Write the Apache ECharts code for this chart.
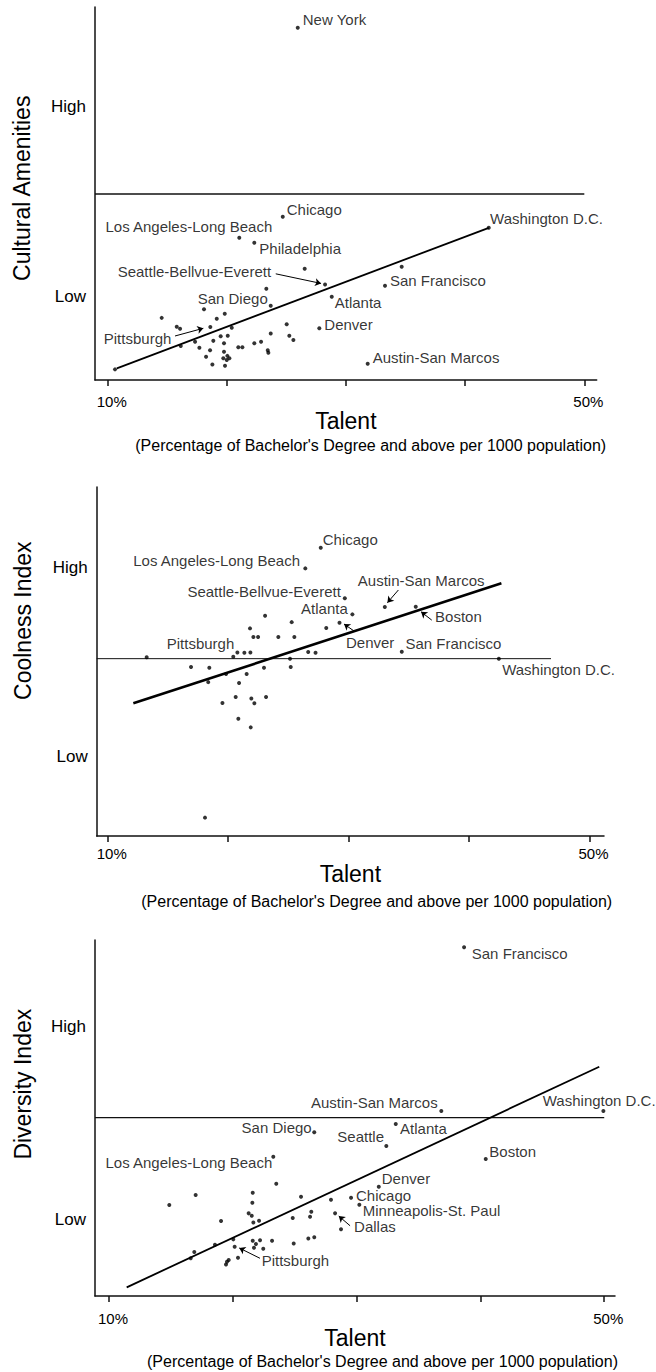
<!DOCTYPE html>
<html>
<head>
<meta charset="utf-8">
<script src="https://cdn.jsdelivr.net/npm/echarts@6/dist/echarts.min.js"></script>
<style>
html,body{margin:0;padding:0;background:#fff;}
#c{width:656px;height:1372px;}
</style>
</head>
<body>
<div id="c"></div>
<script>
// ---------------- DATA ----------------
const talentTickValues = [10, 20, 30, 40, 50];
const talentLabelValues = [10, 50];
const levelTickValues = [0, 10];
const levelTickLabels = ['Low', 'High'];
const xTitle = 'Talent';
const xSubtitle = "(Percentage of Bachelor's Degree and above per 1000 population)";

// Panel 1: Cultural Amenities vs Talent
const amenTitle = 'Cultural Amenities';
const amenNames = ['New York','Chicago','Los Angeles-Long Beach','Philadelphia','Seattle-Bellvue-Everett','San Diego','Pittsburgh','Washington D.C.','San Francisco','Atlanta','Denver','Austin-San Marcos',
  '','','','','','','','','','','','','','','','','','','','','','','','','','','','','','','','','','','','',''];
const amenTalent = [25.95,24.69,21.04,22.30,28.24,23.68,18.61,41.98,33.27,28.80,27.76,31.82,
  26.53,23.31,14.53,18.08,19.82,19.15,15.79,16.07,20.41,25.02,23.68,25.24,25.58,22.87,22.30,20.96,21.30,23.43,23.48,16.13,17.33,17.69,18.86,19.48,20.07,19.76,18.59,18.25,19.76,19.70,20.04,20.21,19.99,18.78,19.84,10.61,34.67];
const amenScore = [14.16,4.21,3.11,2.84,0.65,-0.47,-1.59,3.63,0.58,0.00,-1.66,-3.53,
  1.47,0.42,-1.11,-0.66,-0.89,-1.16,-1.58,-1.68,-1.63,-1.45,-1.93,-2.05,-2.28,-2.37,-2.45,-2.66,-2.66,-2.81,-2.95,-2.59,-2.37,-2.68,-2.32,-2.08,-2.05,-2.45,-2.81,-3.16,-2.89,-3.24,-3.11,-3.24,-3.33,-3.56,-3.63,-3.82,1.58];
const amenTrend = [[10.76,-3.77],[41.98,3.63]];
const amenMedian = 5.41;

// Panel 2: Coolness Index vs Talent
const coolTitle = 'Coolness Index';
const coolNames = ['Chicago','Los Angeles-Long Beach','Seattle-Bellvue-Everett','Atlanta','Austin-San Marcos','Boston','Denver','San Francisco','Washington D.C.','Pittsburgh',
  '','','','','','','','','','','','','','','','','','','','','','','','','','','','','','',''];
const coolTalent = [27.68,26.40,29.68,30.31,33.00,35.57,29.24,34.41,42.47,20.42,
  13.23,16.91,18.43,18.34,19.82,20.76,21.34,21.84,21.81,22.09,22.48,23.06,24.16,25.27,25.49,28.14,26.64,27.25,25.13,25.19,22.97,21.53,20.90,19.52,20.62,21.92,22.17,23.14,20.84,21.87,18.07];
const coolScore = [11.02,9.93,8.35,7.50,7.89,7.90,7.06,5.53,5.16,5.26,
  5.23,4.72,4.68,3.92,4.35,5.49,5.47,5.49,6.76,6.30,6.30,7.43,6.30,7.09,6.30,6.78,5.51,5.47,5.16,4.72,4.68,4.35,3.87,2.82,3.13,3.06,2.80,3.13,1.99,1.53,-3.24];
const coolTrend = [[12.12,2.80],[42.68,9.14]];
const coolMedian = 5.16;

// Panel 3: Diversity Index vs Talent
const divTitle = 'Diversity Index';
const divNames = ['San Francisco','Austin-San Marcos','Washington D.C.','Atlanta','Seattle','San Diego','Boston','Denver','Chicago','Minneapolis-St. Paul','Dallas','Los Angeles-Long Beach','Pittsburgh',
  '','','','','','','','','','','','','','','','','','','','','','','','','','','','','','','','',''];
const divTalent = [38.68,36.84,49.93,33.16,32.40,26.58,40.43,31.79,29.55,30.22,28.26,23.27,20.15,
  28.74,27.93,25.51,26.34,26.24,24.84,23.51,21.61,21.58,21.28,21.53,21.66,22.12,19.05,17.00,14.87,16.60,16.89,18.56,20.04,21.61,22.20,21.87,21.71,22.46,23.17,24.92,26.10,26.58,19.67,19.53,19.45,20.42,20.85,20.32,18.97,9.89];
const divScore = [14.12,5.62,5.62,4.95,3.81,4.52,3.13,1.69,1.12,0.76,0.31,3.25,-1.42,
  -0.52,1.02,1.17,0.39,0.13,0.07,1.85,1.38,0.86,0.31,0.19,-0.16,-0.07,-0.09,1.26,0.74,-2.02,-1.70,-1.32,-1.04,-1.11,-1.09,-1.28,-1.47,-1.53,-1.11,-1.25,-0.99,-0.93,-2.11,-2.20,-2.34,-1.99,-2.11,-2.98,-3.37,-2.86];
const divTrend = [[11.43,-3.53],[49.60,7.92]];
const divMedian = 5.28;

// ---------------- LAYOUT / STYLE ----------------
const FONT = '"Liberation Sans", Arial, Helvetica, sans-serif';
const DOT = 4;

const panels = [
  {
    title: amenTitle, names: amenNames, talent: amenTalent, score: amenScore, trend: amenTrend, median: amenMedian,
    medianEnd: 50.0,
    grid: {left: 95, top: 7, width: 501.7, height: 373},
    xRange: [8.93, 51.04], yRange: [-4.38, 15.25],
    labelMargin: 14, nameGap: 23.5, trendWidth: 1.8, refWidth: 1.3,
    yTitlePos: [22, 188.3], subPos: [370.7, 445],
    labels: {
      'New York': ['left', 5, -8], 'Chicago': ['left', 4, -7], 'Los Angeles-Long Beach': ['right', 33, -11],
      'Philadelphia': ['left', 5, 6], 'Seattle-Bellvue-Everett': ['right', -54, -12.6], 'San Diego': ['right', -3, -7],
      'Pittsburgh': ['right', -39, 11.7], 'Washington D.C.': ['left', 1.3, -9], 'San Francisco': ['left', 5, -5],
      'Atlanta': ['left', 3, 6], 'Denver': ['left', 5, -4], 'Austin-San Marcos': ['left', 5, -6]
    },
    arrows: {
      'Seattle-Bellvue-Everett': [-49.3, -10.6, -4, -1],
      'Pittsburgh': [-35.3, 9, -7, 1.3]
    }
  },
  {
    title: coolTitle, names: coolNames, talent: coolTalent, score: coolScore, trend: coolTrend, median: coolMedian,
    medianEnd: 46.8,
    grid: {left: 96.7, top: 487, width: 507.3, height: 349},
    xRange: [9.08, 51.2], yRange: [-4.21, 14.23],
    labelMargin: 10, nameGap: 26.5, trendWidth: 2.6, refWidth: 1,
    yTitlePos: [22.5, 620.7], subPos: [376.7, 901.7],
    labels: {
      'Chicago': ['left', 2, -8.7], 'Los Angeles-Long Beach': ['right', -5.3, -7.6], 'Seattle-Bellvue-Everett': ['right', -4, -6.6],
      'Atlanta': ['right', -4.6, -6], 'Austin-San Marcos': ['left', -27, -26], 'Boston': ['left', 19.3, 10],
      'Denver': ['left', 6.5, 20], 'San Francisco': ['left', 3.7, -8.4], 'Washington D.C.': ['left', 3.3, 10.7],
      'Pittsburgh': ['right', 1, -13.4]
    },
    arrows: {
      'Austin-San Marcos': [13.6, -17, 2.6, -4.3],
      'Boston': [16, 13.3, 5.3, 5],
      'Denver': [15.5, 9, 4.5, 1.3]
    }
  },
  {
    title: divTitle, names: divNames, talent: divTalent, score: divScore, trend: divTrend, median: divMedian,
    medianEnd: 50.0,
    grid: {left: 95, top: 940, width: 520, height: 356},
    xRange: [8.87, 50.87], yRange: [-3.98, 14.50],
    labelMargin: 15, nameGap: 25, trendWidth: 1.8, refWidth: 1.3,
    yTitlePos: [22.5, 1084.2], subPos: [382.5, 1361.7],
    labels: {
      'San Francisco': ['left', 7.7, 6], 'Austin-San Marcos': ['right', -3.6, -8.7], 'Washington D.C.': ['left', -60.6, -10.3],
      'Atlanta': ['left', 4.3, 4.3], 'Seattle': ['right', -2.3, -9.3], 'San Diego': ['right', -2.6, -4.6],
      'Boston': ['left', 3.6, -7.3], 'Denver': ['left', 3, -8.4], 'Chicago': ['left', 5, -2.7],
      'Minneapolis-St. Paul': ['left', 3.4, 6.3], 'Dallas': ['left', 19, 13.2], 'Los Angeles-Long Beach': ['right', -1, 6],
      'Pittsburgh': ['left', 27, 14.3]
    },
    arrows: {
      'Dallas': [15, 12.4, 3.7, 2.7],
      'Pittsburgh': [25.3, 11.6, 4.6, 1.3]
    }
  }
];

const grids = [], xAxes = [], yAxes = [], series = [], graphics = [];

panels.forEach((p, i) => {
  grids.push(Object.assign({outerBoundsMode: 'none', containLabel: false}, p.grid));
  const pxX = p.grid.width / (p.xRange[1] - p.xRange[0]);
  const pxY = p.grid.height / (p.yRange[1] - p.yRange[0]);
  xAxes.push({
    gridIndex: i, type: 'value', min: p.xRange[0], max: p.xRange[1],
    axisLine: {show: true, onZero: false, lineStyle: {color: '#111', width: 1.5}},
    axisTick: {show: true, customValues: talentTickValues, length: 6, lineStyle: {color: '#111', width: 1.5}},
    axisLabel: {customValues: talentLabelValues, formatter: '{value}%', fontSize: 15, color: '#000',
      fontFamily: FONT, margin: p.labelMargin, padding: [0, 0, 0, 8]},
    splitLine: {show: false},
    name: xTitle, nameLocation: 'middle', nameGap: p.nameGap,
    nameTextStyle: {fontSize: 23, color: '#000', fontFamily: FONT}
  });
  yAxes.push({
    gridIndex: i, type: 'value', min: p.yRange[0], max: p.yRange[1],
    axisLine: {show: true, onZero: false, lineStyle: {color: '#111', width: 1.5}},
    axisTick: {show: false},
    axisLabel: {customValues: levelTickValues,
      formatter: v => levelTickLabels[levelTickValues.indexOf(v)] || '',
      fontSize: 17, color: '#000', fontFamily: FONT, margin: 9},
    splitLine: {show: false}
  });

  // median reference line
  series.push({
    type: 'line', xAxisIndex: i, yAxisIndex: i, silent: true, symbol: 'none', z: 1,
    data: [[p.xRange[0], p.median], [p.medianEnd, p.median]],
    lineStyle: {color: '#111', width: p.refWidth}, emphasis: {disabled: true}, animation: false
  });
  // trend line
  series.push({
    type: 'line', xAxisIndex: i, yAxisIndex: i, silent: true, symbol: 'none', z: 2,
    data: p.trend,
    lineStyle: {color: '#000', width: p.trendWidth}, emphasis: {disabled: true}, animation: false
  });
  // points
  const r = DOT / 2;
  const data = p.names.map((n, k) => {
    const item = {value: [p.talent[k], p.score[k]], name: n};
    const L = n ? p.labels[n] : null;
    if (L) {
      item.label = {show: true, formatter: '{b}', position: [L[1] + r, L[2] + r], align: L[0], verticalAlign: 'middle',
        fontSize: 15, lineHeight: 14, color: '#000', fontFamily: FONT};
    }
    return item;
  });
  const arrowData = Object.keys(p.arrows).map(n => {
    const k = p.names.indexOf(n);
    const x = p.talent[k], y = p.score[k], a = p.arrows[n];
    return [{coord: [x + a[0] / pxX, y - a[1] / pxY]}, {coord: [x + a[2] / pxX, y - a[3] / pxY]}];
  });
  series.push({
    type: 'scatter', xAxisIndex: i, yAxisIndex: i, silent: true, z: 3,
    symbol: 'circle', symbolSize: DOT, itemStyle: {color: '#000'},
    label: {show: false, formatter: '{b}'}, emphasis: {disabled: true}, animation: false,
    data: data,
    markLine: {
      silent: true, animation: false, symbol: ['none', 'arrow'], symbolSize: 6,
      lineStyle: {color: '#000', width: 1, type: 'solid'},
      label: {show: false}, emphasis: {disabled: true},
      data: arrowData
    }
  });

  graphics.push({
    type: 'text', x: p.yTitlePos[0], y: p.yTitlePos[1], rotation: Math.PI / 2,
    style: {text: p.title, fontSize: 23, fontFamily: FONT, fill: '#000',
      align: 'center', verticalAlign: 'middle', textAlign: 'center', textVerticalAlign: 'middle'}
  });
  graphics.push({
    type: 'text', x: p.subPos[0], y: p.subPos[1],
    style: {text: xSubtitle, fontSize: 16, fontFamily: FONT, fill: '#000',
      align: 'center', verticalAlign: 'middle', textAlign: 'center', textVerticalAlign: 'middle'}
  });
});

const chart = echarts.init(document.getElementById('c'), null, {renderer: 'svg', width: 656, height: 1372});
chart.setOption({
  animation: false,
  backgroundColor: '#fff',
  textStyle: {fontFamily: FONT},
  grid: grids, xAxis: xAxes, yAxis: yAxes, series: series,
  graphic: graphics
});
</script>
</body>
</html>
